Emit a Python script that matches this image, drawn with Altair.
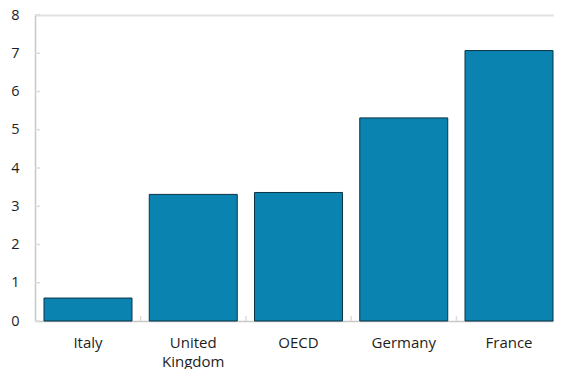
import altair as alt
import pandas as pd

countries = ["Italy", "United Kingdom", "OECD", "Germany", "France"]
values = [0.6, 3.31, 3.36, 5.31, 7.07]
y_ticks = [0, 1, 2, 3, 4, 5, 6, 7, 8]

df = pd.DataFrame({"country": countries, "value": values})
ticks_df = pd.DataFrame({"t": y_ticks})
bound_df = pd.DataFrame({"country": countries[1:]})

W, H = 519, 306
FONT = "Open Sans"
PI = 0.164

x_scale = alt.Scale(paddingInner=PI, paddingOuter=0.0855, range=[0, 527])
y_scale = alt.Scale(domain=[0, 8], nice=False)

x_axis = alt.Axis(labelAngle=0, labelFont=FONT, labelFontSize=15,
                  labelColor="#1e1e1e", labelPadding=14,
                  labelExpr="split(datum.label, ' ')",
                  labelLineHeight=19, labelOverlap=False,
                  ticks=False, domainColor="#c8c8c8", domainWidth=1.5)

y_axis = alt.Axis(values=y_ticks, ticks=False, labelFont=FONT, labelFontSize=14.5,
                  labelColor="#1e1e1e", labelPadding=16, labelOverlap=False,
                  labelFlush=False,
                  domainColor="#c8c8c8", domainWidth=1.5,
                  grid=True, gridColor="#e2e2e2", gridWidth=2,
                  gridOpacity=alt.ExprRef("datum.value == 8 ? 1 : 0"))

bars = alt.Chart(df).mark_bar(color="#0a83b0", stroke="#0b3344", strokeWidth=1).encode(
    x=alt.X("country:N", sort=countries, title=None, scale=x_scale, axis=x_axis),
    y=alt.Y("value:Q", scale=y_scale, title=None, axis=y_axis),
)

yticks = alt.Chart(ticks_df).mark_rule(color="#dcdcdc", strokeWidth=1.5).encode(
    y=alt.Y("t:Q", scale=y_scale, title=None, axis=y_axis),
    x=alt.value(0), x2=alt.value(5),
)

xticks = alt.Chart(bound_df).mark_rule(color="#dcdcdc", strokeWidth=1.5, xOffset=-8.6).encode(
    x=alt.X("country:N", sort=countries, bandPosition=0, title=None, scale=x_scale, axis=x_axis),
    y=alt.value(H), y2=alt.value(H - 5),
)

chart = alt.layer(bars, yticks, xticks).properties(
    width=W, height=H,
    autosize=alt.AutoSizeParams(type="none"),
    padding={"left": 27, "top": 7, "right": 0, "bottom": 48},
).configure_view(stroke=None)

chart.save("out.html", embed_options={"renderer": "svg", "actions": False})
